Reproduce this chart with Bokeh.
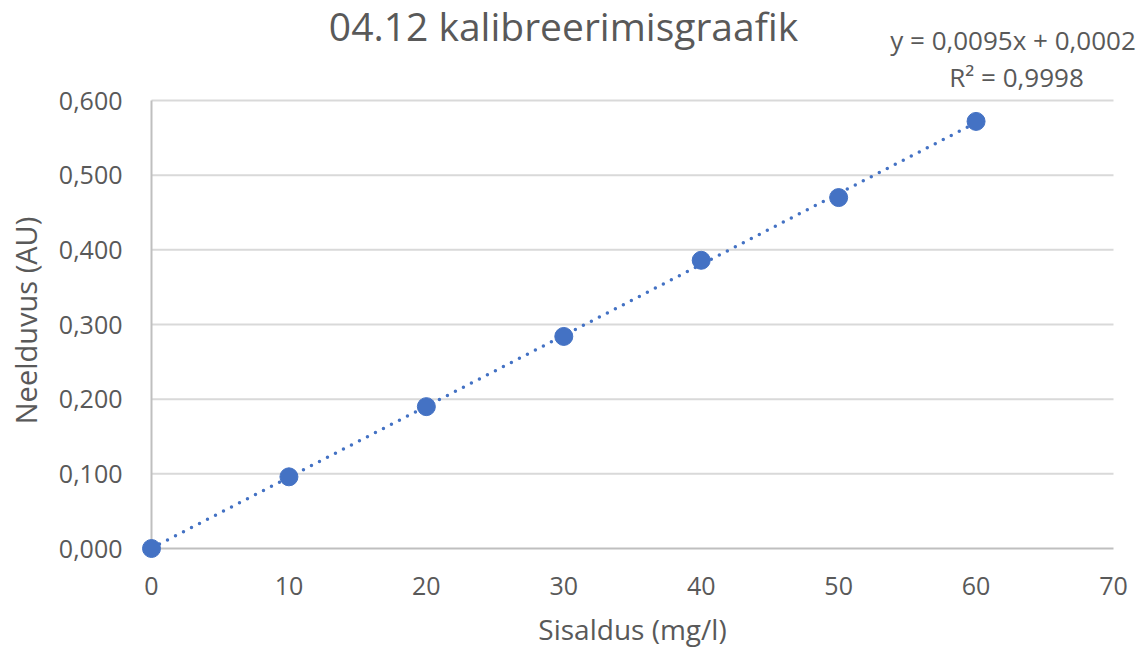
import numpy as np
from bokeh.plotting import figure
from bokeh.models import Label, CustomJSTickFormatter, FixedTicker, Range1d
from bokeh.embed import file_html
from bokeh.resources import INLINE

concentration = [0, 10, 20, 30, 40, 50, 60]
absorbance = [0.000, 0.096, 0.190, 0.284, 0.386, 0.470, 0.572]
x_ticks = [0, 10, 20, 30, 40, 50, 60, 70]
y_ticks = [0.0, 0.1, 0.2, 0.3, 0.4, 0.5, 0.6]
title_text = "04.12 kalibreerimisgraafik"
equation_text = "y = 0,0095x + 0,0002"
r2_text = "R² = 0,9998"
x_label = "Sisaldus (mg/l)"
y_label = "Neelduvus (AU)"

FONT = "Open Sans"
TXT = "#595959"
BLUE = "#4472C4"
GRID = "#D9D9D9"
AXIS = "#BFBFBF"

# layout (pixels): where the axes sit inside the canvas
W, H = 1145, 652
PX0, PX1 = 151, 1113      # x = 0 .. 70
PY0, PY1 = 548, 100       # y = 0 .. 0.6
BASE_SHIFT = 0.33         # empirical baseline correction (fraction of font size)

xs = (x_ticks[-1] - x_ticks[0]) / (PX1 - PX0)
ys = (y_ticks[-1] - y_ticks[0]) / (PY0 - PY1)
x_range = Range1d(x_ticks[0] - PX0 * xs, x_ticks[-1] + (W - PX1) * xs)
y_range = Range1d(y_ticks[0] - (H - PY0) * ys, y_ticks[-1] + PY1 * ys)

def px_x(px):  # pixel column -> data x
    return x_ticks[0] + (px - PX0) * xs

def px_y(py):  # pixel row -> data y
    return y_ticks[0] + (PY0 - py) * ys

p = figure(width=W, height=H, output_backend="svg", toolbar_location=None, title=None,
           x_range=x_range, y_range=y_range,
           min_border_left=0, min_border_right=0, min_border_top=0, min_border_bottom=0)
p.outline_line_color = None
p.background_fill_color = "white"
p.xgrid.grid_line_color = None
p.ygrid.grid_line_color = None

for ax in (p.xaxis[0], p.yaxis[0]):
    ax.major_tick_out = 0
    ax.major_tick_in = 0
    ax.minor_tick_line_color = None
    ax.axis_line_color = AXIS
    ax.axis_line_width = 2
    ax.major_label_text_font = FONT
    ax.major_label_text_font_size = "25px"
    ax.major_label_text_color = TXT
    ax.level = "underlay"

p.xaxis.ticker = FixedTicker(ticks=x_ticks)
p.yaxis.ticker = FixedTicker(ticks=y_ticks)
p.xaxis.bounds = (x_ticks[0], x_ticks[-1])
p.yaxis.bounds = (y_ticks[0], y_ticks[-1])
p.xaxis.fixed_location = y_ticks[0]
p.yaxis.fixed_location = x_ticks[0]
p.yaxis.formatter = CustomJSTickFormatter(code="return tick.toFixed(3).replace('.', ',');")
p.xaxis.formatter = CustomJSTickFormatter(code="return tick.toFixed(0);")
p.xaxis.major_label_standoff = 28
p.yaxis.major_label_standoff = 29

# horizontal gridlines over the data extent
gy = y_ticks[1:]
p.segment(x0=[x_ticks[0]] * len(gy), y0=gy, x1=[x_ticks[-1]] * len(gy), y1=gy,
          line_color=GRID, line_width=2, level="underlay")

# linear trendline fitted to the data
slope, intercept = np.polyfit(concentration, absorbance, 1)
tx = np.array([min(concentration), max(concentration)], dtype=float)
p.line(tx, slope * tx + intercept, line_color=BLUE, line_width=3.5,
       line_dash="0 9", line_cap="round")

p.scatter(concentration, absorbance, size=18, fill_color=BLUE, line_color=BLUE)

def label(cx, baseline, text, size, vertical=False):
    shift = BASE_SHIFT * size
    if vertical:
        x, y, angle = px_x(baseline - shift), px_y(cx), np.pi / 2
    else:
        x, y, angle = px_x(cx), px_y(baseline - shift), 0.0
    p.add_layout(Label(x=x, y=y, text=text, angle=angle, text_align="center",
                       text_baseline="alphabetic", text_font=FONT,
                       text_font_size=f"{size}px", text_color=TXT))

label(563, 38, title_text, 39)
label(1012.5, 48, equation_text, 26)
label(1016, 85, r2_text, 26)
label(632, 638, x_label, 28)
label(320, 35, y_label, 29, vertical=True)

open("out.html", "w").write(file_html(p, INLINE))
